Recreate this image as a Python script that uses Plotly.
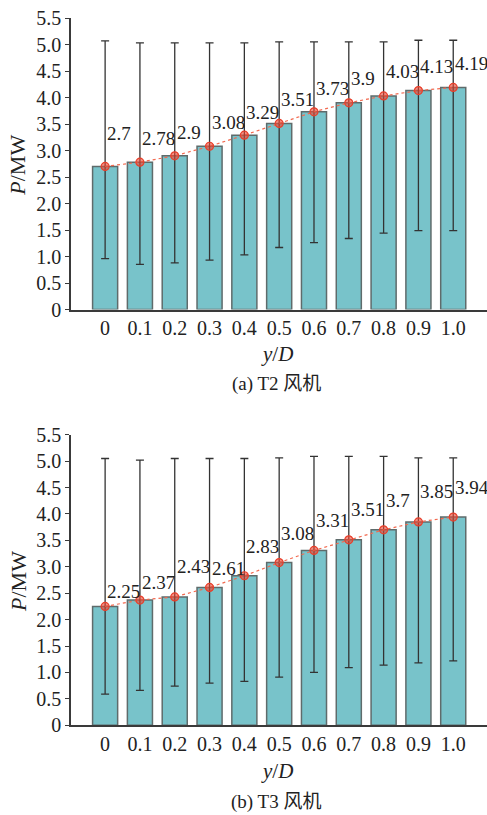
import plotly.graph_objects as go

# ---- data ----
x_labels = ["0", "0.1", "0.2", "0.3", "0.4", "0.5", "0.6", "0.7", "0.8", "0.9", "1.0"]

t2_power = [2.7, 2.78, 2.9, 3.08, 3.29, 3.51, 3.73, 3.9, 4.03, 4.13, 4.19]
t2_max = [5.07, 5.03, 5.03, 5.03, 5.03, 5.05, 5.05, 5.05, 5.05, 5.08, 5.08]
t2_min = [0.96, 0.85, 0.88, 0.93, 1.03, 1.17, 1.26, 1.34, 1.44, 1.49, 1.49]

t3_power = [2.25, 2.37, 2.43, 2.61, 2.83, 3.08, 3.31, 3.51, 3.7, 3.85, 3.94]
t3_max = [5.05, 5.02, 5.05, 5.05, 5.05, 5.06, 5.09, 5.09, 5.09, 5.06, 5.06]
t3_min = [0.59, 0.66, 0.74, 0.80, 0.83, 0.91, 1.00, 1.09, 1.14, 1.18, 1.22]

y_ticks = [0, 0.5, 1.0, 1.5, 2.0, 2.5, 3.0, 3.5, 4.0, 4.5, 5.0, 5.5]
y_tick_text = ["0", "0.5", "1.0", "1.5", "2.0", "2.5", "3.0", "3.5", "4.0", "4.5", "5.0", "5.5"]

captions = ["(a) T2 风机", "(b) T3 风机"]

# label vertical offsets (styling, px)
label_dy_a = [33, 24, 23, 24, 23, 24, 23.5, 24, 24, 24, 24]
label_dy_b = [15, 17.5, 30, 19, 29, 29, 29.5, 30, 29, 30, 30]

# ---- style ----
W, H = 487, 815
L = 71
FONT = "Liberation Serif, Times New Roman, Noto Sans CJK SC, serif"
BAR_COLOR = "#78C3CA"
BAR_LINE = "#5f6b6b"
ERR_COLOR = "#333333"
RED = "#e8402c"
AX_COLOR = "#3a3a3a"

fig = go.Figure()

panels = [
    dict(power=t2_power, vmax=t2_max, vmin=t2_min, dy=label_dy_a,
         xa="x", ya="y", top_px=18.0, zero_px=309.5, title_px=354, cap_px=384),
    dict(power=t3_power, vmax=t3_max, vmin=t3_min, dy=label_dy_b,
         xa="x2", ya="y2", top_px=434.7, zero_px=725.3, title_px=771, cap_px=802),
]

def py(px):
    return 1 - px / H

def pxx(px):
    return (px - L) / (W - L)

annotations = []
for i, p in enumerate(panels):
    up = [mx - v for mx, v in zip(p["vmax"], p["power"])]
    dn = [v - mn for mn, v in zip(p["vmin"], p["power"])]
    fig.add_trace(go.Bar(
        x=x_labels, y=p["power"], xaxis=p["xa"], yaxis=p["ya"],
        marker=dict(color=BAR_COLOR, line=dict(color=BAR_LINE, width=1.5)),
        width=0.72,
        error_y=dict(type="data", array=up, arrayminus=dn, symmetric=False,
                     color=ERR_COLOR, thickness=1.3, width=4),
        showlegend=False,
    ))
    fig.add_trace(go.Scatter(
        x=x_labels, y=p["power"], xaxis=p["xa"], yaxis=p["ya"],
        mode="lines+markers",
        line=dict(color="#f26a50", width=1.2, dash="dot"),
        marker=dict(symbol="circle", size=8, color="rgba(236,70,50,0.6)",
                    line=dict(color=RED, width=1.2)),
        showlegend=False,
    ))
    for k, (v, d) in enumerate(zip(p["power"], p["dy"])):
        annotations.append(dict(
            x=k, y=v, xref=p["xa"], yref=p["ya"], text=f"{v:g}",
            showarrow=False, xanchor="left", yanchor="middle",
            xshift=0, yshift=d,
            font=dict(family=FONT, size=19, color="#222222"),
        ))
    annotations.append(dict(
        x=pxx(277), y=py(p["title_px"]), xref="paper", yref="paper",
        text="<i>y</i>/<i>D</i>", showarrow=False, xanchor="center", yanchor="middle",
        font=dict(family=FONT, size=21, color="#222222"),
    ))
    annotations.append(dict(
        x=pxx(276), y=py(p["cap_px"]), xref="paper", yref="paper",
        text=captions[i], showarrow=False, xanchor="center", yanchor="middle",
        font=dict(family=FONT, size=19, color="#222222"),
    ))
    annotations.append(dict(
        x=pxx(18), y=py((p["top_px"] + p["zero_px"]) / 2 + 2), xref="paper", yref="paper",
        text="<i>P</i>/MW", showarrow=False, textangle=-90,
        xanchor="center", yanchor="middle",
        font=dict(family=FONT, size=22, color="#222222"),
    ))

common_x = dict(
    type="category", range=[-0.98, 10.97], showline=True, linecolor=AX_COLOR, linewidth=1.5,
    ticks="", showgrid=False, zeroline=False, automargin=False,
    tickfont=dict(family=FONT, size=20, color="#222222"),
)
common_y = dict(
    range=[0, 5.5], tickvals=y_ticks, ticktext=y_tick_text,
    showline=True, linecolor=AX_COLOR, linewidth=1.5,
    ticks="outside", ticklen=4, tickcolor=AX_COLOR, tickwidth=1.2,
    showgrid=False, zeroline=False, automargin=False,
    tickfont=dict(family=FONT, size=20, color="#222222"),
)

fig.update_layout(
    width=W, height=H,
    margin=dict(l=L, r=0, t=0, b=0, pad=0),
    paper_bgcolor="white", plot_bgcolor="white",
    xaxis=dict(common_x, domain=[0, 1], anchor="y"),
    yaxis=dict(common_y, domain=[py(panels[0]["zero_px"]), py(panels[0]["top_px"])], anchor="x"),
    xaxis2=dict(common_x, domain=[0, 1], anchor="y2"),
    yaxis2=dict(common_y, domain=[py(panels[1]["zero_px"]), py(panels[1]["top_px"])], anchor="x2"),
    annotations=annotations,
    showlegend=False,
)

fig.write_html("out.html", config={"displayModeBar": False},
               post_script="document.body.style.margin='0px';")
